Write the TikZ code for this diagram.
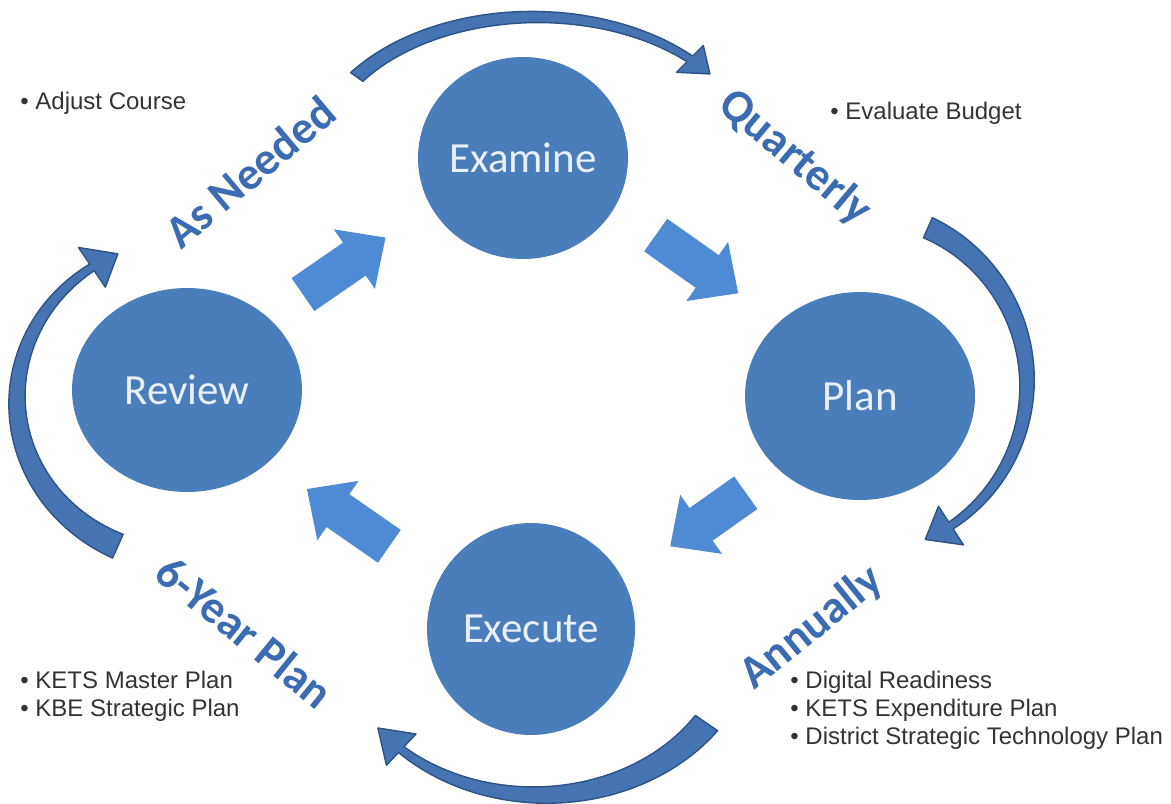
\documentclass[tikz,border=0pt]{standalone}
\usepackage{fontspec}
\setmainfont{Liberation Sans}
\newfontfamily\calibfont{Carlito}
\usepackage{tikz}
\usetikzlibrary{shapes.geometric, arrows.meta, calc}
\definecolor{stageblue}{HTML}{4A7EBB}
\definecolor{stagetext}{HTML}{E9F0F9}
\definecolor{flowblue}{HTML}{4F8BD4}
\definecolor{loopfill}{HTML}{4674B3}
\definecolor{loopedge}{HTML}{2C5385}
\definecolor{labelblue}{HTML}{3B6CB2}
\definecolor{notegray}{HTML}{333333}
\tikzstyle{stage} = [ellipse, fill=stageblue, text=stagetext, inner sep=0pt, font=\calibfont\fontsize{21.5}{24}\selectfont]
\tikzstyle{bigarrow} = [draw=flowblue, line width=20pt, -{Triangle[width=35pt, length=19pt]}]
\tikzstyle{swoosh} = [fill=loopfill, draw=loopedge, line width=0.7pt, line join=round]
\tikzstyle{period} = [text=labelblue, inner sep=0pt, font=\calibfont\bfseries\fontsize{23}{26}\selectfont]
\tikzstyle{note} = [text=notegray, anchor=west, align=left, inner sep=0pt, font=\fontsize{12}{14}\selectfont]
% tapered curved arrow: cx, cy, a, b, start, end, tail width, head width, head angle
\newcommand{\swoosh}[9]{%
  \filldraw[swoosh]
    plot[domain=#5:#6, samples=50, variable=\t] ({#1+(#3+(#7+(8-#7)*(\t-(#5))/((#6)-(#5)))/2)*cos(\t)}, {#2+(#4+(#7+(8-#7)*(\t-(#5))/((#6)-(#5)))/2)*sin(\t)})
    -- ({#1+(#3+#8/2)*cos(#6)}, {#2+(#4+#8/2)*sin(#6)})
    -- ({#1+#3*cos(#6+#9)}, {#2+#4*sin(#6+#9)})
    -- ({#1+(#3-#8/2)*cos(#6)}, {#2+(#4-#8/2)*sin(#6)})
    -- plot[domain=#6:#5, samples=50, variable=\t] ({#1+(#3-(#7+(8-#7)*(\t-(#5))/((#6)-(#5)))/2)*cos(\t)}, {#2+(#4-(#7+(8-#7)*(\t-(#5))/((#6)-(#5)))/2)*sin(\t)})
    -- cycle;
}

\begin{document}
\begin{tikzpicture}[x=0.5pt, y=-0.5pt]
        \useasboundingbox (0,0) rectangle (1171,803);

        \node [stage, minimum width=105pt, minimum height=101pt] at (523,158) (examine) {Examine};
        \node [stage, minimum width=115pt, minimum height=104pt] at (860,396) (plan) {Plan};
        \node [stage, minimum width=104pt, minimum height=106pt] at (531,629) (execute) {Execute};
        \node [stage, minimum width=115pt, minimum height=102pt] at (187,390) (review) {Review};

        % loops around the stages
        \swoosh{535}{160}{219}{143}{215.5}{315}{15}{38}{8}
        \swoosh{860}{383}{167}{170}{-66}{57}{22}{46}{10}
        \swoosh{540}{629}{202}{166}{34.5}{133.4}{27}{43}{10}
        \swoosh{187}{400}{170}{160}{114}{236}{26}{48}{10}

        \node [period, rotate=40] at (250,172) (asneeded) {As Needed};
        \node [period, rotate=-40] at (795,158) (quarterly) {Quarterly};
        \node [period, rotate=39] at (812,628) (annually) {Annually};
        \node [period, rotate=-39] at (245,632) (sixyear) {6-Year Plan};

        \node [note] at (20,103) (adjust) {• Adjust Course};
        \node [note] at (830,113) (budget) {• Evaluate Budget};
        \node [note] at (20,696) (master) {• KETS Master Plan\\• KBE Strategic Plan};
        \node [note] at (790,710) (digital) {• Digital Readiness\\• KETS Expenditure Plan\\• District Strategic Technology Plan};

        \draw [bigarrow] ($(review)!0.366!(examine)+(-7,-10.5)$) -- ($(review)!0.612!(examine)+(-7,-10.5)$);
        \draw [bigarrow] ($(examine)!0.37!(plan)+(8,-11)$) -- ($(examine)!0.615!(plan)+(8,-11)$);
        \draw [bigarrow] ($(plan)!0.37!(execute)+(7.5,10.5)$) -- ($(plan)!0.6!(execute)+(7.5,10.5)$);
        \draw [bigarrow] ($(execute)!0.39!(review)+(-7.5,10.5)$) -- ($(execute)!0.63!(review)+(-7.5,10.5)$);
    \end{tikzpicture}
\end{document}
